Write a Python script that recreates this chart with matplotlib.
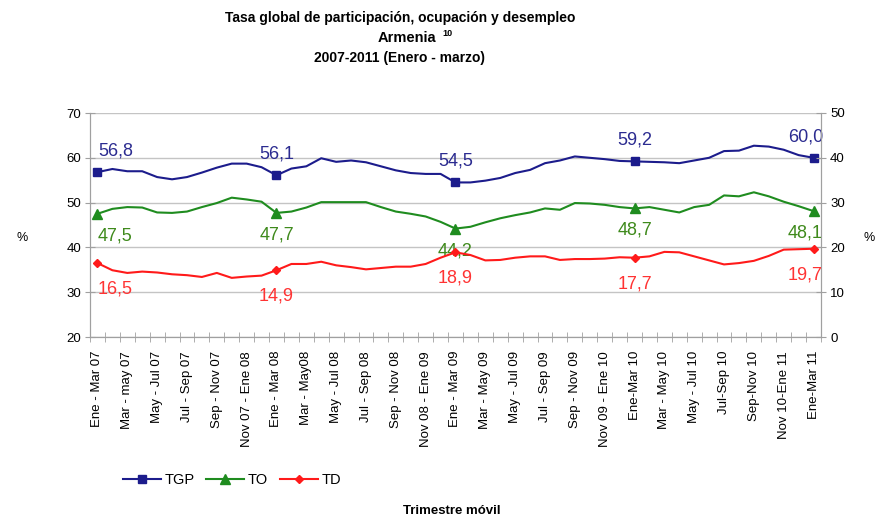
import matplotlib
matplotlib.use("Agg")
import matplotlib.pyplot as plt
import numpy as np

plt.rcParams["font.family"] = ["Liberation Sans", "DejaVu Sans"]

# trimestres móviles (ene-mar 07 ... ene-mar 11), una etiqueta cada 2
tick_labels = [
    "Ene - Mar 07", "Mar - may 07", "May - Jul 07", "Jul - Sep 07", "Sep - Nov 07",
    "Nov 07 - Ene 08", "Ene - Mar 08", "Mar - May08", "May - Jul 08", "Jul - Sep 08",
    "Sep - Nov 08", "Nov 08 - Ene 09", "Ene - Mar 09", "Mar - May 09", "May - Jul 09",
    "Jul - Sep 09", "Sep - Nov 09", "Nov 09 - Ene 10", "Ene-Mar 10", "Mar - May 10",
    "May - Jul 10", "Jul-Sep 10", "Sep-Nov 10", "Nov 10-Ene 11", "Ene-Mar 11",
]

tgp = [56.8, 57.5, 57.0, 57.0, 55.7, 55.2, 55.7, 56.7, 57.8, 58.7, 58.7, 57.9,
       56.1, 57.6, 58.1, 59.9, 59.1, 59.4, 59.0, 58.1, 57.2, 56.6, 56.4, 56.4,
       54.5, 54.5, 54.9, 55.5, 56.6, 57.3, 58.8, 59.4, 60.3, 60.0, 59.7, 59.3,
       59.2, 59.1, 59.0, 58.8, 59.4, 60.0, 61.5, 61.6, 62.7, 62.5, 61.8, 60.6,
       60.0]
to = [47.5, 48.6, 49.0, 48.9, 47.8, 47.7, 48.0, 49.0, 49.9, 51.1, 50.7, 50.2,
      47.7, 48.0, 48.9, 50.1, 50.1, 50.1, 50.1, 49.0, 48.0, 47.5, 46.9, 45.7,
      44.2, 44.6, 45.6, 46.5, 47.2, 47.8, 48.7, 48.4, 49.9, 49.8, 49.5, 49.0,
      48.7, 49.0, 48.4, 47.8, 49.0, 49.5, 51.6, 51.4, 52.3, 51.4, 50.2, 49.2,
      48.1]
td = [16.5, 14.9, 14.3, 14.6, 14.4, 14.0, 13.8, 13.4, 14.3, 13.2, 13.5, 13.7,
      14.9, 16.3, 16.3, 16.8, 16.0, 15.6, 15.1, 15.4, 15.7, 15.7, 16.3, 17.7,
      18.9, 18.3, 17.1, 17.2, 17.7, 18.0, 18.0, 17.2, 17.4, 17.4, 17.5, 17.8,
      17.7, 18.0, 19.0, 18.9, 18.0, 17.1, 16.2, 16.5, 17.0, 18.1, 19.5, 19.6,
      19.7]

marked = [0, 12, 24, 36, 48]   # puntos con marcador y etiqueta

C_TGP, C_TO, C_TD = "#1c1c8c", "#1f8c1f", "#ff1a1a"
L_TGP, L_TO, L_TD = "#2b2b90", "#3f8a1c", "#ff3333"
GRID = "#c4c4c4"

fig = plt.figure(figsize=(8.76, 5.18), dpi=100)
ax = fig.add_axes([90 / 876, 1 - 337 / 518, 731 / 876, 224 / 518])
ax2 = ax.twinx()

x = np.arange(len(tgp))
ax.plot(x, tgp, color=C_TGP, lw=1.5, marker="s", ms=6, markevery=marked, label="TGP", zorder=3)
ax.plot(x, to, color=C_TO, lw=1.5, marker="^", ms=6.5, markevery=marked, label="TO", zorder=3)
ax2.plot(x, td, color=C_TD, lw=1.5, marker="D", ms=4.5, markevery=marked, label="TD", zorder=3)

ax.set_ylim(20, 70)
ax2.set_ylim(0, 50)
ax.set_xlim(-0.5, len(tgp) - 0.5)
ax.set_yticks(range(20, 71, 10))
ax2.set_yticks(range(0, 51, 10))
ax.yaxis.grid(True, color=GRID, lw=1.0)
ax.set_axisbelow(True)

ax.set_xticks(x[::2])
ax.set_xticklabels(tick_labels, rotation=90, fontsize=9.5)
ax.set_xticks(np.arange(-0.5, len(tgp)), minor=True)
ax.tick_params(axis="x", which="major", length=0, pad=10)
ax.tick_params(axis="x", which="minor", direction="inout", length=7, color="#a0a0a0")
ax.tick_params(axis="y", direction="inout", length=7, color="#a0a0a0", labelsize=9.5, pad=3)
ax2.tick_params(axis="y", direction="inout", length=7, color="#a0a0a0", labelsize=9.5, pad=3)

for a in (ax, ax2):
    a.spines["top"].set_visible(False)
    for side in ("left", "right", "bottom"):
        a.spines[side].set_color("#a0a0a0")

# etiquetas de datos
def label_points(axis, vals, color, dy):
    for k, i in enumerate(marked):
        dx = 18 if k == 0 else (-8 if k == len(marked) - 1 else 0)
        axis.annotate(f"{vals[i]:.1f}".replace(".", ","), (x[i], vals[i]),
                      xytext=(dx, dy), textcoords="offset pixels",
                      ha="center", va="center", fontsize=13, color=color, zorder=5)

label_points(ax, tgp, L_TGP, 21)
label_points(ax, to, L_TO, -22)
label_points(ax2, td, L_TD, -26)

fig.text(22 / 876, 1 - 238 / 518, "%", fontsize=9, ha="center", va="center")
fig.text(864 / 876, 1 - 238 / 518, "%", fontsize=9, ha="left", va="center")

fig.text(400 / 876, 1 - 18 / 518, "Tasa global de participación, ocupación y desempleo",
         fontsize=10, fontweight="bold", ha="center", va="center")
fig.text(407 / 876, 1 - 38 / 518, "Armenia", fontsize=10.5, fontweight="bold",
         ha="center", va="center")
fig.text(442 / 876, 1 - 33 / 518, "10", fontsize=6.5, fontweight="bold",
         ha="left", va="center")
fig.text(400 / 876, 1 - 58 / 518, "2007-2011 (Enero - marzo)",
         fontsize=10, fontweight="bold", ha="center", va="center")

h1, l1 = ax.get_legend_handles_labels()
h2, l2 = ax2.get_legend_handles_labels()
fig.legend(h1 + h2, l1 + l2, loc="center", bbox_to_anchor=(232 / 876, 1 - 480 / 518),
           ncol=3, frameon=False, fontsize=10.5, handlelength=2.6, columnspacing=0.8,
           handletextpad=0.25)

fig.text(452 / 876, 1 - 511 / 518, "Trimestre móvil", fontsize=9.5, fontweight="bold",
         ha="center", va="center")

fig.savefig("out.png", dpi=100, facecolor="white")
